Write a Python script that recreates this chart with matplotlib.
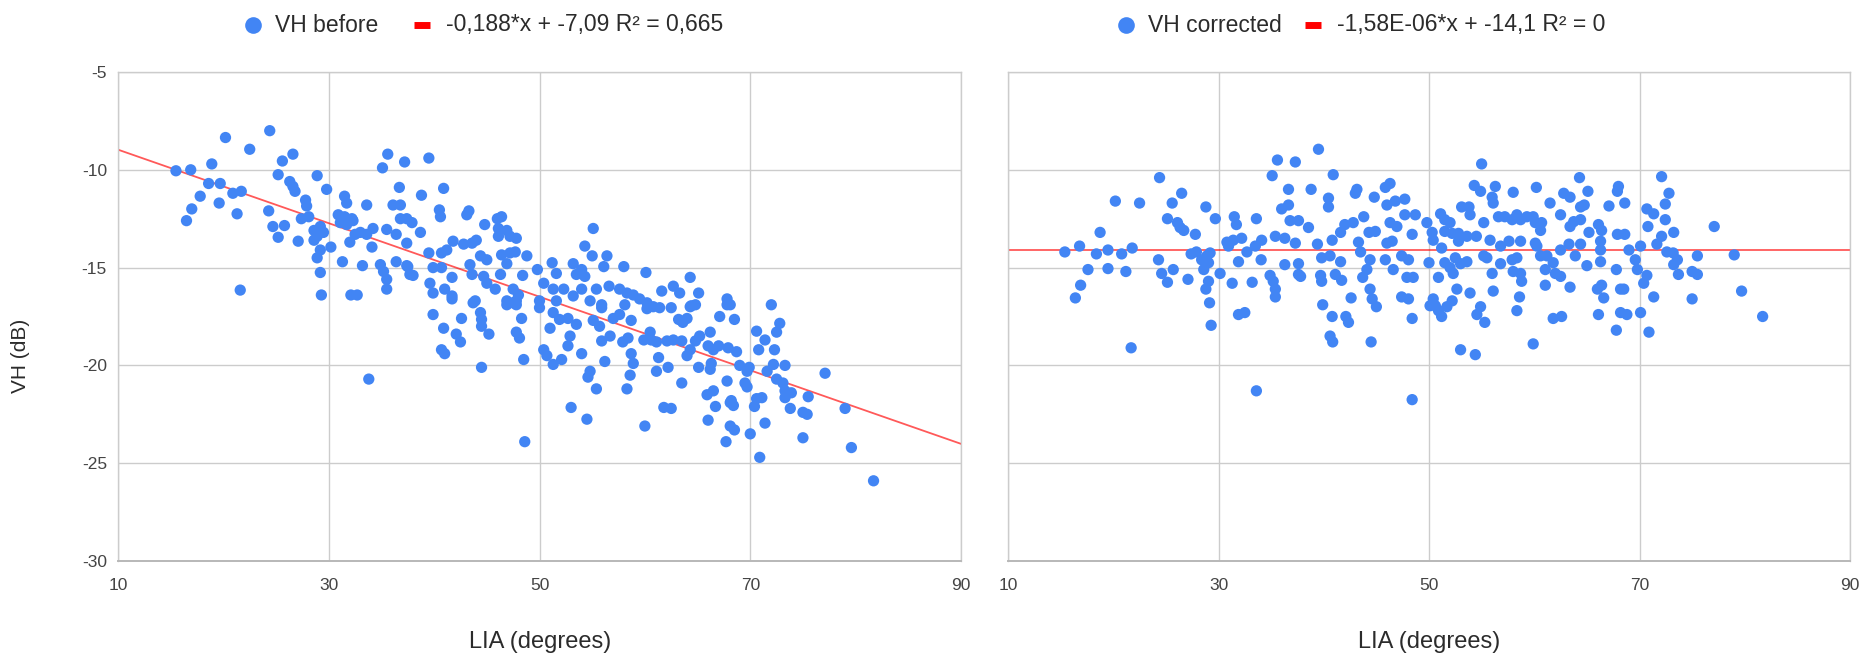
import numpy as np
import matplotlib
matplotlib.use('Agg')
import matplotlib.pyplot as plt
from matplotlib.lines import Line2D

#-------------------------------------------------#
#-- Backscatter VH against local incidence angle -#
#-------------------------------------------------#
# (LIA in degrees, VH in dB) before correction
before_pts = [
    (20.2,-8.35),(24.4,-8.0),(22.5,-8.95),(18.9,-9.7),(15.5,-10.05),(16.9,-10.0),(18.6,-10.7),(19.7,-10.7),
    (17.8,-11.35),(17.0,-12.0),(16.5,-12.6),(19.6,-11.7),(20.9,-11.2),(21.7,-11.1),(21.3,-12.25),(21.6,-16.15),
    (25.6,-9.55),(26.6,-9.2),(25.2,-10.25),(26.3,-10.6),(26.6,-10.85),(26.8,-11.1),(24.3,-12.1),(24.7,-12.9),
    (25.8,-12.85),(25.2,-13.45),(27.1,-13.65),(27.8,-11.55),(27.9,-11.85),(28.9,-10.3),(29.8,-11.0),(27.4,-12.5),
    (28.1,-12.4),(28.6,-13.1),(29.2,-12.9),(28.9,-13.4),(29.5,-13.2),(28.6,-13.6),(29.2,-14.1),(28.9,-14.5),
    (30.2,-13.95),(29.2,-15.25),(29.3,-16.4),(31.3,-14.7),(33.2,-14.9),(32.1,-16.4),(32.7,-16.4),(31.5,-11.35),
    (31.7,-11.7),(33.6,-11.8),(30.9,-12.3),(31.5,-12.4),(32.2,-12.5),(31.1,-12.7),(31.7,-12.8),(32.3,-12.6),
    (33.0,-13.2),(33.6,-13.3),(34.2,-13.0),(32.5,-13.3),(32.0,-13.7),(34.1,-13.95),(35.6,-9.2),(35.1,-9.9),
    (37.2,-9.6),(36.7,-10.9),(36.1,-11.8),(36.8,-11.8),(36.8,-12.5),(37.4,-12.5),(35.5,-13.05),(36.4,-13.3),
    (37.4,-13.75),(34.9,-14.85),(35.2,-15.2),(35.5,-15.6),(35.5,-16.1),(36.4,-14.7),(37.4,-14.9),
    (39.5,-9.4),(38.8,-11.3),(40.9,-10.95),(40.5,-12.05),(40.6,-12.4),(43.1,-12.3),(43.3,-12.1),(37.9,-12.7),
    (38.7,-13.2),(44.8,-12.8),(46.0,-12.5),(46.4,-12.4),(46.1,-13.0),(46.9,-13.1),(46.1,-13.4),(47.2,-13.4),
    (47.8,-13.5),(41.8,-13.65),(42.8,-13.8),(43.6,-13.75),(44.0,-13.6),(41.2,-14.1),(40.7,-14.25),(39.5,-14.25),
    (37.5,-14.95),(37.7,-15.35),(38.0,-15.4),(39.9,-15.0),(40.7,-15.0),(44.4,-14.4),(45.0,-14.6),(43.4,-14.85),
    (43.6,-15.35),(46.4,-14.35),(47.2,-14.25),(47.7,-14.2),(48.8,-14.4),(46.9,-14.8),(39.6,-15.8),(39.9,-16.3),
    (41.0,-16.1),(41.7,-16.45),(41.7,-15.5),(43.9,-16.7),(44.7,-15.45),(45.0,-15.8),(45.8,-16.1),(46.3,-15.35),
    (47.5,-16.1),(48.0,-16.4),(46.9,-16.7),(47.8,-16.7),(48.4,-15.4),(49.8,-15.1),(50.4,-15.8),(51.2,-14.75),
    (51.6,-15.3),(51.3,-16.1),(50.0,-16.7),(52.3,-16.1),(53.2,-16.45),(54.0,-16.1),(51.6,-16.7),(53.2,-14.8),
    (54.0,-15.1),(54.3,-15.45),(53.5,-15.35),(55.1,-13.0),(54.3,-13.9),(55.0,-14.4),(56.4,-14.4),(56.1,-14.95),
    (55.4,-16.1),(54.8,-16.7),(55.9,-16.9),(56.6,-15.95),(57.6,-16.1),(58.3,-16.3),(58.9,-16.4),(58.0,-14.95),
    (60.1,-15.25),(59.5,-16.6),(60.2,-16.8),
    (64.3,-15.5),(61.6,-16.2),(62.7,-15.95),(63.3,-16.3),(65.1,-16.3),(60.8,-17.0),(62.5,-17.05),(64.3,-17.0),
    (64.8,-16.9),(67.8,-16.6),(68.1,-16.9),(72.0,-16.9),
    (47.8,-16.9),(48.3,-17.6),(47.8,-18.3),(48.1,-18.6),(48.5,-19.7),(48.6,-23.9),(50.0,-17.05),(51.0,-18.1),
    (50.4,-19.2),(50.7,-19.5),(51.3,-19.95),(52.1,-19.7),(52.7,-19.0),(52.9,-18.5),(51.9,-17.65),(52.7,-17.6),
    (53.5,-17.9),(51.3,-17.3),(54.0,-19.4),(54.8,-20.3),(54.6,-20.6),(55.4,-21.2),(53.0,-22.15),(54.5,-22.75),
    (55.1,-17.7),(55.7,-18.0),(55.9,-18.75),(56.7,-18.5),(56.2,-19.8),(55.9,-17.05),(57.0,-17.6),(57.6,-17.4),
    (58.1,-16.9),(58.7,-17.7),(57.9,-18.8),(58.4,-18.6),(58.7,-19.4),(58.9,-19.9),(58.6,-20.5),(58.3,-21.2),
    (60.0,-23.1),(59.9,-18.7),(60.5,-18.3),(60.6,-18.7),(61.1,-18.8),(61.3,-19.6),(61.1,-20.3),(62.2,-20.1),
    (60.2,-17.1),(61.4,-17.05),(63.2,-17.65),(63.6,-17.8),(64.0,-17.6),(64.4,-16.95),(62.1,-18.75),(62.7,-18.7),
    (63.5,-18.75),(63.5,-20.9),(61.8,-22.15),(62.5,-22.2),(64.0,-19.5),(64.3,-19.2),(64.8,-18.75),(65.2,-18.5),
    (65.1,-20.1),(66.2,-20.2),(66.3,-19.9),(65.9,-21.5),(66.5,-21.3),(66.7,-22.1),(66.0,-22.8),(66.2,-18.3),
    (66.5,-19.2),(66.0,-19.0),(67.0,-19.0),(67.1,-17.5),(68.5,-17.65),(67.8,-16.9),(67.9,-19.1),(68.7,-19.3),
    (67.8,-20.8),(68.1,-21.9),(68.4,-22.05),(68.2,-21.8),(68.1,-23.1),(68.5,-23.3),(67.7,-23.9),(69.0,-20.0),
    (69.7,-20.3),(69.5,-20.9),(69.7,-21.1),(69.9,-20.1),(70.6,-21.7),(71.1,-21.65),(70.4,-22.1),(70.0,-23.5),
    (70.9,-24.7),(71.4,-22.95),(70.6,-18.25),(71.4,-18.7),(70.8,-19.2),(71.6,-20.3),(72.2,-19.95),(72.3,-19.2),
    (72.5,-18.3),(72.8,-17.85),(72.5,-20.7),(73.1,-20.9),(73.3,-21.3),(73.3,-21.65),(73.9,-21.4),(73.3,-20.0),
    (73.8,-22.2),(75.0,-22.4),(75.4,-22.5),(75.5,-21.6),(75.0,-23.7),(77.1,-20.4),(79.0,-22.2),(79.6,-24.2),
    (81.7,-25.9),
    (33.8,-20.7),(39.9,-17.4),(40.9,-18.1),(42.6,-17.6),(44.4,-17.3),(44.5,-17.65),(44.5,-18.0),(45.2,-18.4),
    (42.1,-18.4),(42.5,-18.8),(40.7,-19.2),(41.0,-19.4),(44.5,-20.1),(46.9,-16.9),(47.5,-16.8),(41.7,-16.6),
    (43.7,-16.8),
]

# (LIA in degrees, VH in dB) after correction
corrected_pts = [
    (15.4,-14.2),(16.8,-13.9),(17.6,-15.1),(16.9,-15.9),(16.4,-16.55),(18.4,-14.3),(19.5,-14.1),(19.5,-15.05),
    (18.75,-13.2),(20.2,-11.6),(20.8,-14.3),(21.8,-14.0),(21.2,-15.2),(22.5,-11.7),(21.7,-19.1),(24.4,-10.4),
    (24.3,-14.6),(24.6,-15.3),(25.15,-15.75),(25.15,-12.5),(25.6,-11.7),(26.5,-11.2),(26.1,-12.7),(26.35,-12.95),
    (26.7,-13.1),(25.7,-15.1),(27.1,-15.6),(27.8,-13.3),(27.4,-14.3),(27.9,-14.2),(28.8,-11.9),(29.7,-12.5),
    (28.4,-14.6),(28.9,-14.4),(29.2,-14.25),(28.6,-15.1),(29.05,-14.75),(29.05,-15.7),(28.8,-16.1),(29.15,-16.8),
    (29.3,-17.95),(30.15,-15.3),(31.3,-15.8),(31.5,-12.4),(31.7,-12.8),(30.8,-13.7),(31.4,-13.6),(32.2,-13.5),
    (30.95,-13.9),(31.9,-14.7),(31.9,-17.4),(32.5,-17.3),(33.6,-12.5),(33.2,-15.75),(32.7,-14.2),(33.5,-13.9),
    (34.1,-13.6),(34.05,-14.6),(35.1,-10.3),(35.6,-9.5),(37.3,-9.6),(39.5,-8.95),(36.65,-11.0),(36.65,-11.8),
    (36.0,-12.0),(36.8,-12.6),(37.6,-12.6),(38.55,-12.95),(35.4,-13.4),(36.3,-13.5),(37.3,-13.75),(34.9,-15.4),
    (35.2,-15.7),(35.4,-16.1),(35.4,-16.5),(36.3,-14.85),(37.6,-14.8),(37.6,-15.35),(37.8,-15.45),(38.8,-11.0),
    (39.4,-13.8),(39.8,-14.5),(40.6,-14.4),(39.7,-15.4),(39.8,-15.7),(39.9,-16.9),(40.6,-18.5),(40.85,-18.8),
    (40.8,-17.5),(40.9,-10.25),(40.45,-11.45),(40.45,-11.9),(40.8,-13.6),(41.6,-13.2),(42.0,-12.8),(41.6,-14.7),
    (41.1,-15.35),(41.7,-15.65),(42.6,-16.55),(42.1,-17.5),(42.35,-17.8),(43.0,-11.2),(43.15,-11.0),(42.8,-12.7),
    (43.8,-12.4),(43.3,-13.7),(43.5,-14.2),(43.7,-15.5),(44.8,-11.4),(44.3,-13.2),(44.9,-13.15),(44.4,-14.6),
    (44.1,-15.1),(44.4,-16.1),(44.6,-16.6),(45.0,-17.0),(44.5,-18.8),(45.85,-10.9),(46.3,-10.7),(46.0,-11.8),
    (46.8,-11.6),(47.7,-11.5),(46.3,-12.7),(46.95,-12.9),(46.0,-13.75),(46.5,-13.65),(45.85,-14.6),(46.6,-15.1),
    (47.4,-14.4),(48.05,-14.6),(47.7,-12.3),(48.7,-12.3),(48.4,-13.3),(47.9,-15.5),(48.5,-15.5),(47.4,-16.5),
    (48.05,-16.6),(48.4,-17.6),(49.8,-12.7),(50.0,-14.75),(50.1,-16.95),
    (55.0,-9.7),(54.3,-10.8),(54.9,-11.1),(56.3,-10.85),(56.0,-11.4),(56.1,-11.7),(58.0,-11.15),(60.2,-10.9),
    (64.3,-10.4),(62.8,-11.2),(63.4,-11.4),(65.1,-11.1),(61.5,-11.7),(64.4,-11.9),(64.75,-11.8),(68.0,-10.85),
    (67.9,-11.1),(68.6,-11.7),(67.1,-11.85),(72.1,-10.35),(72.8,-11.2),(72.45,-11.75),(70.7,-12.0),(71.35,-12.25),
    (72.45,-12.55),(73.25,-13.2),(70.8,-12.9),(72.1,-13.4),(77.1,-12.9),(51.1,-12.25),(51.5,-12.55),(52.0,-12.7),
    (53.1,-11.9),(53.8,-11.9),(53.9,-12.3),(50.3,-13.2),(50.4,-13.6),(51.5,-13.15),(52.2,-13.25),(52.8,-13.25),
    (52.8,-13.65),(53.6,-13.4),(54.5,-13.4),(55.2,-12.7),(55.8,-13.6),(56.6,-12.4),(57.2,-12.4),(57.9,-12.55),
    (58.35,-12.3),(58.7,-12.55),(59.3,-12.4),(59.9,-12.4),(60.1,-12.7),(60.7,-12.7),(60.6,-13.1),(57.6,-13.65),
    (58.7,-13.65),(56.8,-13.9),(60.1,-13.75),(60.25,-13.9),(62.5,-12.3),(63.4,-12.9),(63.75,-12.65),(64.4,-12.55),
    (65.2,-13.2),(66.1,-12.8),(66.4,-13.1),(66.3,-13.65),(67.9,-13.3),(68.6,-13.3),(63.3,-13.8),(64.4,-13.8),
    (62.5,-14.1),(51.2,-14.0),(51.5,-14.75),(50.9,-15.5),(52.5,-14.5),(53.0,-14.8),(53.6,-14.7),(52.0,-15.0),
    (52.3,-15.3),(52.65,-16.1),(52.2,-16.7),(51.7,-17.0),(50.4,-16.6),(50.6,-16.95),(51.2,-17.5),(50.9,-17.2),
    (53.0,-19.2),(54.4,-19.45),(53.9,-16.3),(54.9,-17.0),(54.55,-17.4),(55.3,-17.8),(55.2,-14.4),(55.5,-14.5),
    (56.0,-15.3),(56.1,-16.2),(56.8,-14.8),(57.9,-14.6),(58.0,-15.2),(58.35,-14.5),(58.7,-15.3),(58.8,-15.7),
    (58.6,-16.5),(58.35,-17.2),(59.9,-18.9),(60.6,-14.4),(61.2,-14.4),(61.05,-15.1),(61.8,-14.75),(62.0,-15.3),
    (62.5,-15.45),(61.05,-15.9),(61.8,-17.6),(62.6,-17.5),(63.4,-16.0),(63.9,-14.4),(65.0,-14.9),(66.3,-14.7),
    (66.3,-14.1),(66.0,-16.1),(66.4,-15.9),(66.6,-16.55),(66.1,-17.4),(67.8,-15.1),(68.2,-16.1),(68.5,-16.1),
    (68.2,-17.3),(68.8,-17.4),(67.8,-18.2),(69.0,-14.1),(69.6,-14.6),(69.8,-15.1),(70.1,-17.3),(70.7,-15.4),
    (70.4,-15.8),(70.9,-18.3),(71.35,-16.5),(70.1,-13.9),(71.65,-13.8),(72.6,-14.2),(73.2,-14.25),(73.6,-14.6),
    (73.25,-14.85),(73.7,-15.35),(75.0,-15.2),(75.5,-15.35),(75.5,-14.4),(75.0,-16.6),(79.0,-14.35),(79.7,-16.2),
    (81.7,-17.5),(33.6,-21.3),(48.4,-21.75),
]

# linear trendlines (slope, intercept) and legend texts
fit_before    = (-0.188, -7.09)
fit_corrected = (-1.58e-06, -14.1)
label_before    = ['VH before', '-0,188*x + -7,09 R² = 0,665']
label_corrected = ['VH corrected', '-1,58E-06*x + -14,1 R² = 0']

xticks = [10, 30, 50, 70, 90]
yticks = [-5, -10, -15, -20, -25, -30]

#-----------------------#
#-- STYLE             --#
#-----------------------#
plt.rcParams['font.family'] = ['Liberation Sans', 'DejaVu Sans']
plt.rcParams['axes.unicode_minus'] = False
blue   = '#4285f4'
red    = '#ff0000'
gridc  = '#cccccc'
txtc   = '#2b2b2b'
W, H   = 1866., 655.

fig = plt.figure(figsize=(W/100, H/100), dpi=100)

def make_panel(rect, pts, fit, show_y):
    ax = fig.add_axes(rect)
    pts = np.array(pts)
    xs = np.array([10, 90])
    ax.plot(xs, fit[0]*xs + fit[1], color=red, lw=1.3, alpha=0.65, zorder=2)
    ax.scatter(pts[:, 0], pts[:, 1], s=66, color=blue, edgecolors='none', zorder=3)
    ax.set_xlim(10, 90)
    ax.set_ylim(-30, -5)
    ax.set_xticks(xticks)
    ax.set_yticks(yticks)
    ax.grid(True, color=gridc, lw=1.0)
    ax.set_axisbelow(True)
    for sp in ax.spines.values():
        sp.set_color(gridc)
        sp.set_linewidth(1.0)
    ax.spines['bottom'].set_color('#b8b8b8')
    ax.spines['bottom'].set_linewidth(1.4)
    ax.tick_params(length=0, labelsize=12.5, colors='#444444')
    ax.tick_params(axis='x', pad=12)
    ax.tick_params(axis='y', pad=8)
    if not show_y:
        ax.set_yticklabels([])
    return ax

ax1 = make_panel([118/W, 94/H, 843/W, 489/H], before_pts, fit_before, True)
ax2 = make_panel([1008/W, 94/H, 842/W, 489/H], corrected_pts, fit_corrected, False)

#-----------------------#
#-- AXIS TITLES       --#
#-----------------------#
fig.text(540/W, 1 - 642/H, 'LIA (degrees)', ha='center', va='center', fontsize=17, color=txtc)
fig.text(1429/W, 1 - 642/H, 'LIA (degrees)', ha='center', va='center', fontsize=17, color=txtc)
fig.text(20/W, 1 - 356/H, 'VH (dB)', ha='center', va='center', rotation=90, fontsize=15, color=txtc)

#-----------------------#
#-- LEGENDS           --#
#-----------------------#
def legend_row(x_dot, x_bar, labels):
    yl = 1 - 25/H
    fig.add_artist(Line2D([x_dot/W], [yl], marker='o', ms=12, color=blue, mec='none',
                          transform=fig.transFigure))
    fig.text((x_dot + 22)/W, yl, labels[0], ha='left', va='center', fontsize=16.5, color=txtc)
    fig.add_artist(Line2D([(x_bar - 8)/W, (x_bar + 8)/W], [yl, yl], lw=5, color=red,
                          solid_capstyle='butt', transform=fig.transFigure))
    fig.text((x_bar + 24)/W, yl, labels[1], ha='left', va='center', fontsize=16.5, color=txtc)

legend_row(253, 422, label_before)
legend_row(1126, 1313, label_corrected)

fig.savefig('out.png', dpi=100, facecolor='white')
plt.close()
